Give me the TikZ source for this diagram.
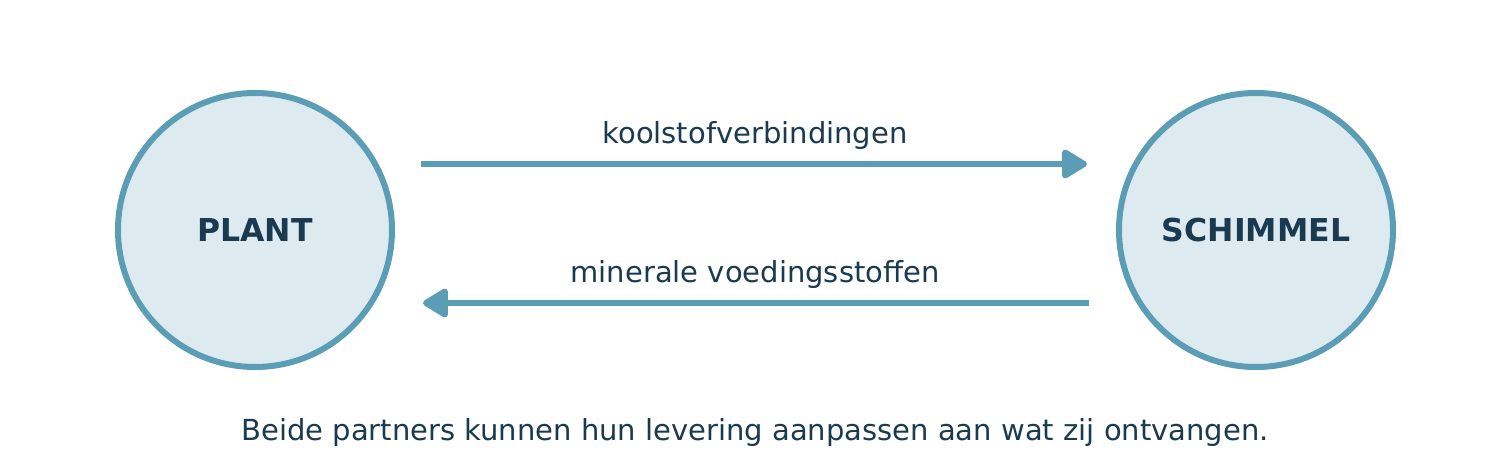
\documentclass[tikz,border=0pt]{standalone}
\usepackage{fontspec}
\setmainfont{DejaVu Sans}
\usetikzlibrary{arrows.meta}
\definecolor{edge}{HTML}{5B9DB5}
\definecolor{fillc}{HTML}{DDEBF1}
\definecolor{txt}{HTML}{1A3A50}
\begin{document}
\begin{tikzpicture}[x=1pt,y=-1pt,
  partner/.style={circle,draw=edge,fill=fillc,line width=6pt,minimum size=274pt,inner sep=0pt,text=txt,font=\fontsize{31.5}{38}\selectfont\bfseries},
  flow/.style={draw=edge,line width=6pt,-{Triangle[length=28pt,width=32pt,round]}},
  lbl/.style={text=txt,font=\fontsize{29}{35}\selectfont,anchor=base,inner sep=0pt}]
\useasboundingbox (0,0) rectangle (1510,476);
\node[partner] (plant) at (255,230) {PLANT};
\node[partner] (schimmel) at (1256,230) {SCHIMMEL};
\coordinate (a1) at (421,164);
\coordinate (a2) at (1087,164);
\coordinate (b1) at (1089,303);
\coordinate (b2) at (423,303);
\draw[flow] (a1) -- (a2);
\draw[flow] (b1) -- (b2);
\node[lbl] (l1) at (755,143) {koolstofverbindingen};
\node[lbl] (l2) at (755,282) {minerale voedingsstoffen};
\node[lbl] (l3) at (755,440) {Beide partners kunnen hun levering aanpassen aan wat zij ontvangen.};
\end{tikzpicture}
\end{document}
